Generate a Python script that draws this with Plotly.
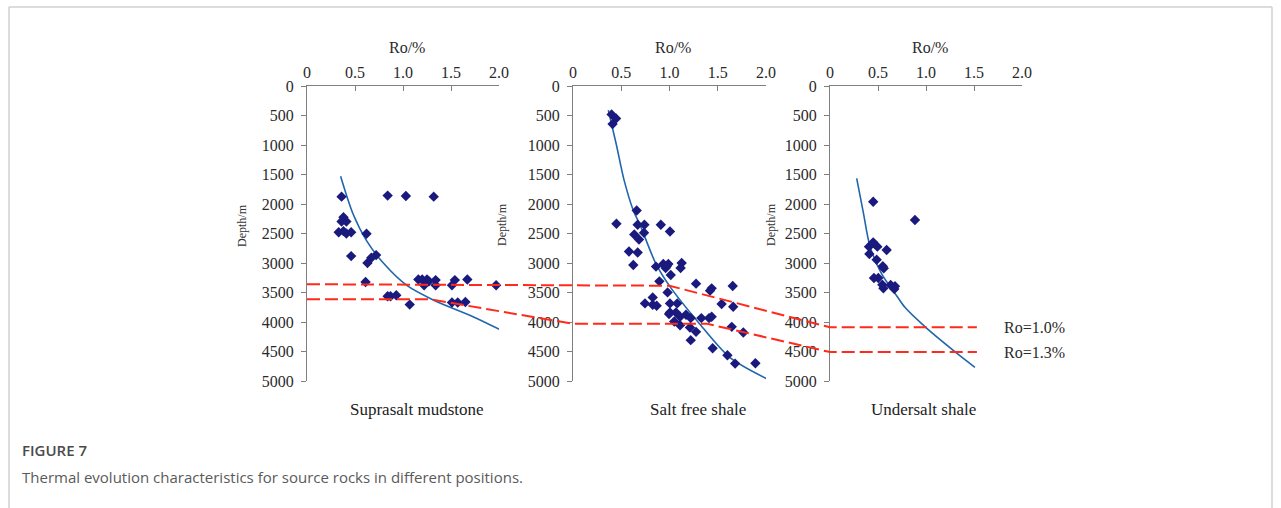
import plotly.graph_objects as go

W, H = 1281, 508

# ---------------- data (Ro %, depth m) ----------------
supra_ro = [0.36, 0.84, 1.03, 1.32, 0.38, 0.36, 0.41, 0.33, 0.38, 0.41, 0.46, 0.62, 0.46, 0.67, 0.72,
            0.63, 0.61, 1.16, 1.20, 1.25, 1.34, 1.54, 1.67, 1.27, 1.22, 1.34, 1.51, 1.97, 0.84, 0.87,
            0.93, 1.07, 1.51, 1.57, 1.65]
supra_depth = [1875, 1858, 1865, 1875, 2225, 2297, 2297, 2478, 2460, 2500, 2478, 2505, 2883, 2911, 2866,
               3001, 3322, 3280, 3280, 3280, 3290, 3290, 3280, 3310, 3378, 3378, 3378, 3378, 3564, 3564,
               3547, 3705, 3670, 3670, 3660]

free_ro = [0.40, 0.446, 0.41, 0.45, 0.66, 0.67, 0.74, 0.91, 1.005, 0.635, 0.736, 0.684, 0.58, 0.67,
           0.625, 0.86, 0.936, 0.988, 0.96, 0.97, 1.126, 1.115, 1.013, 0.895, 1.275, 1.42, 1.437, 1.655,
           0.826, 0.98, 0.746, 0.826, 0.867, 1.005, 1.08, 1.005, 0.995, 1.067, 1.109, 1.171, 1.22, 1.049,
           1.109, 1.212, 1.275, 1.22, 1.33, 1.41, 1.437, 1.54, 1.66, 1.645, 1.765, 1.447, 1.60, 1.68, 1.89]
free_depth = [481, 550, 646, 2335, 2109, 2352, 2352, 2352, 2466, 2517, 2488, 2602, 2806, 2823,
              3033, 3061, 3016, 3016, 3084, 3061, 2999, 3084, 3203, 3311, 3350, 3469, 3430, 3390,
              3583, 3498, 3685, 3707, 3724, 3685, 3685, 3838, 3866, 3838, 3912, 3878, 3934, 3991,
              4054, 4093, 4167, 4308, 3934, 3934, 3912, 3696, 3741, 4082, 4178, 4444, 4563, 4705, 4699]

under_ro = [0.45, 0.885, 0.45, 0.406, 0.493, 0.41, 0.59, 0.486, 0.55, 0.56, 0.458, 0.503, 0.545,
            0.556, 0.632, 0.677, 0.67]
under_depth = [1961, 2271, 2650, 2723, 2723, 2847, 2780, 2944, 3056, 3090, 3254, 3254, 3367,
               3429, 3373, 3395, 3441]

# trend curves
supra_fit_ro = [0.35, 0.48, 0.62, 0.80, 1.04, 1.32, 1.73, 2.06]
supra_fit_depth = [1530, 2170, 2620, 3010, 3380, 3630, 3910, 4170]
free_fit_ro = [0.366, 0.45, 0.53, 0.625, 0.694, 0.86, 1.005, 1.30, 1.627, 2.02]
free_fit_depth = [408, 1000, 1600, 2109, 2352, 3016, 3401, 4008, 4604, 4971]
under_fit_ro = [0.278, 0.347, 0.415, 0.538, 0.694, 0.78, 0.997, 1.31, 1.51]
under_fit_depth = [1565, 2141, 2706, 3186, 3554, 3751, 4090, 4514, 4768]

# correlation (iso-Ro) lines: (panel index, Ro, depth)
ro10_panel = [0, 1, 2, 2]
ro10_ro = [0.0, 1.0, 0.0, 1.53]
ro10_depth = [3360, 3385, 4090, 4090]
ro13_panel = [0, 0, 1, 1, 2, 2]
ro13_ro = [0.0, 1.28, 0.0, 1.39, 0.0, 1.53]
ro13_depth = [3615, 3615, 4030, 4030, 4510, 4510]

panel_titles = ["Suprasalt mudstone", "Salt free shale", "Undersalt shale"]
x_ticks = [0, 0.5, 1.0, 1.5, 2.0]
x_tick_text = ["0", "0.5", "1.0", "1.5", "2.0"]
y_ticks = [0, 500, 1000, 1500, 2000, 2500, 3000, 3500, 4000, 4500, 5000]

# ---------------- layout geometry ----------------
x_dom = [[307 / W, 499 / W], [573 / W, 766 / W], [830 / W, 1022 / W]]
y_dom = [1 - 381 / H, 1 - 86 / H]

SERIF = "Liberation Serif, Times New Roman, serif"
NAVY = "#1a1a7e"
BLUE = "#2166ac"
RED = "#ff2a1a"
AXC = "#7f7f7f"

fig = go.Figure()

pts = [(supra_ro, supra_depth), (free_ro, free_depth), (under_ro, under_depth)]
fits = [(supra_fit_ro, supra_fit_depth), (free_fit_ro, free_fit_depth), (under_fit_ro, under_fit_depth)]

for i in range(3):
    xa = "x" if i == 0 else f"x{i+1}"
    ya = "y" if i == 0 else f"y{i+1}"
    fig.add_trace(go.Scatter(x=fits[i][0], y=fits[i][1], xaxis=xa, yaxis=ya, mode="lines",
                             line=dict(color=BLUE, width=1.6, shape="spline", smoothing=0.8),
                             hoverinfo="skip", showlegend=False))
    fig.add_trace(go.Scatter(x=pts[i][0], y=pts[i][1], xaxis=xa, yaxis=ya, mode="markers",
                             marker=dict(symbol="diamond", size=8, color=NAVY),
                             showlegend=False, cliponaxis=False))


def paper_x(panel, ro):
    d = x_dom[panel]
    return d[0] + ro / 2.0 * (d[1] - d[0])


for pan, ros, deps in [(ro10_panel, ro10_ro, ro10_depth), (ro13_panel, ro13_ro, ro13_depth)]:
    fig.add_trace(go.Scatter(x=[paper_x(p, r) for p, r in zip(pan, ros)], y=deps,
                             xaxis="x4", yaxis="y4", mode="lines",
                             line=dict(color=RED, width=2, dash="13px,5px"),
                             hoverinfo="skip", showlegend=False))

layout = dict(width=W, height=H, autosize=False, margin=dict(l=0, r=0, t=0, b=0, pad=0, autoexpand=False),
              paper_bgcolor="white", plot_bgcolor="rgba(0,0,0,0)", showlegend=False)

for i in range(3):
    xk = "xaxis" if i == 0 else f"xaxis{i+1}"
    yk = "yaxis" if i == 0 else f"yaxis{i+1}"
    ya = "y" if i == 0 else f"y{i+1}"
    xa = "x" if i == 0 else f"x{i+1}"
    layout[xk] = dict(domain=x_dom[i], anchor=ya, side="top", range=[0, 2.0], automargin=False,
                      tickvals=x_ticks, ticktext=x_tick_text, ticks="inside", ticklen=5,
                      tickcolor=AXC, showline=True, linecolor=AXC, linewidth=1.3,
                      showgrid=False, zeroline=False,
                      tickfont=dict(family=SERIF, size=16, color="#2a2a2a"))
    layout[yk] = dict(domain=y_dom, anchor=xa, range=[5000, 0], tickvals=y_ticks, automargin=False,
                      ticks="outside", ticklen=5, tickcolor=AXC, showline=True, linecolor=AXC,
                      linewidth=1.3, showgrid=False, zeroline=False, ticklabelstandoff=4,
                      tickfont=dict(family=SERIF, size=16, color="#2a2a2a"))

layout["xaxis4"] = dict(domain=[0, 1], anchor="y4", range=[0, 1], visible=False, automargin=False)
layout["yaxis4"] = dict(domain=y_dom, anchor="x4", range=[5000, 0], visible=False, automargin=False)

ann = []
ro_title_x = [407, 673, 930]
depth_x = [242, 502, 771]
bottom_x = [417, 698, 923]
for i in range(3):
    ann.append(dict(text="Ro/%", x=ro_title_x[i] / W, y=1 - 47 / H, xref="paper", yref="paper",
                    showarrow=False, xanchor="center", yanchor="middle",
                    font=dict(family=SERIF, size=16, color="#2a2a2a")))
    ann.append(dict(text="Depth/m", x=depth_x[i] / W, y=1 - 225 / H, xref="paper", yref="paper",
                    showarrow=False, textangle=-90, xanchor="center", yanchor="middle",
                    font=dict(family=SERIF, size=12, color="#333333")))
    ann.append(dict(text=panel_titles[i], x=bottom_x[i] / W, y=1 - 409 / H, xref="paper", yref="paper",
                    showarrow=False, xanchor="center", yanchor="middle",
                    font=dict(family=SERIF, size=17, color="#222222")))

ann.append(dict(text="Ro=1.0%", x=1002 / W, y=ro10_depth[-1], xref="paper", yref="y4",
                showarrow=False, xanchor="left", yanchor="middle",
                font=dict(family=SERIF, size=16, color="#2a2a2a")))
ann.append(dict(text="Ro=1.3%", x=1002 / W, y=ro13_depth[-1], xref="paper", yref="y4",
                showarrow=False, xanchor="left", yanchor="middle",
                font=dict(family=SERIF, size=16, color="#2a2a2a")))

ann.append(dict(text="FIGURE 7", x=20 / W, y=1 - 450 / H, xref="paper", yref="paper",
                showarrow=False, xanchor="left", yanchor="middle",
                font=dict(family="Open Sans, sans-serif", size=15, color="#4a4a4a", weight=600)))
ann.append(dict(text="Thermal evolution characteristics for source rocks in different positions.",
                x=20 / W, y=1 - 477 / H, xref="paper", yref="paper",
                showarrow=False, xanchor="left", yanchor="middle",
                font=dict(family="Open Sans, sans-serif", size=15, color="#5a5a5a")))

layout["annotations"] = ann
BORDER = dict(color="#d0d0d0", width=1.5)
layout["shapes"] = [
    dict(type="line", xref="paper", yref="paper", x0=9 / W, x1=1272 / W, y0=1 - 7 / H, y1=1 - 7 / H, line=BORDER),
    dict(type="line", xref="paper", yref="paper", x0=9 / W, x1=9 / W, y0=0, y1=1 - 7 / H, line=BORDER),
    dict(type="line", xref="paper", yref="paper", x0=1272 / W, x1=1272 / W, y0=0, y1=1 - 7 / H, line=BORDER),
]

fig.update_layout(**layout)
fig.write_html("out.html", config={"responsive": False, "displayModeBar": False},
               post_script="document.body.style.margin='0';document.body.style.overflow='hidden';")
